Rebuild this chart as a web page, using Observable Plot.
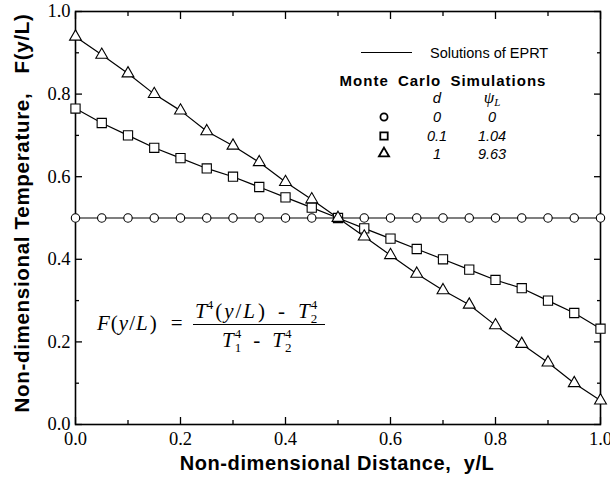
<!DOCTYPE html>
<html><head><meta charset="utf-8">
<script src="https://cdn.jsdelivr.net/npm/d3@7"></script>
<script src="https://cdn.jsdelivr.net/npm/@observablehq/plot@0.6"></script>
<style>body{margin:0;background:#fff} #chart{position:relative;width:610px;height:478px}</style>
</head><body><div id="chart"></div>
<script>
// ---- data ----
const positions = [0, 0.05, 0.1, 0.15, 0.2, 0.25, 0.3, 0.35, 0.4, 0.45, 0.5, 0.55, 0.6, 0.65, 0.7, 0.75, 0.8, 0.85, 0.9, 0.95, 1.0];
const circleValues = [0.5, 0.5, 0.5, 0.5, 0.5, 0.5, 0.5, 0.5, 0.5, 0.5, 0.5, 0.5, 0.5, 0.5, 0.5, 0.5, 0.5, 0.5, 0.5, 0.5, 0.5];
const squareValues = [0.765, 0.73, 0.70, 0.67, 0.645, 0.62, 0.60, 0.575, 0.55, 0.525, 0.5, 0.475, 0.45, 0.425, 0.40, 0.375, 0.35, 0.33, 0.30, 0.27, 0.232];
const triangleValues = [0.939, 0.895, 0.85, 0.80, 0.76, 0.71, 0.675, 0.635, 0.587, 0.545, 0.5, 0.455, 0.41, 0.365, 0.325, 0.29, 0.24, 0.195, 0.15, 0.10, 0.058];
const majorTicks = [0, 0.2, 0.4, 0.6, 0.8, 1.0];
const minorTicks = [0.1, 0.3, 0.5, 0.7, 0.9];
const legendSymbols = ["circle", "square", "triangle"];
const legendD = ["0", "0.1", "1"];
const legendPsi = ["0", "1.04", "9.63"];

const series = [
  {name: "circle", values: circleValues},
  {name: "square", values: squareValues},
  {name: "triangle", values: triangleValues}
];
const data = series.flatMap(s => positions.map((x, i) => ({series: s.name, x, y: s.values[i]})));
const of = name => data.filter(d => d.series === name);

const fmt = d3.format(".1f");
const tickStyle = {stroke: "#000", strokeWidth: 1.3};

const chart = Plot.plot({
  width: 610, height: 478,
  marginLeft: 75, marginRight: 10, marginTop: 11, marginBottom: 54,
  style: {fontFamily: "'Liberation Serif', serif", fontSize: "18.5px", color: "#000", background: "#fff"},
  x: {domain: [0, 1]},
  y: {domain: [0, 1]},
  marks: [
    Plot.axisX(majorTicks, {anchor: "bottom", tickSize: 0, tickPadding: 7, tickFormat: fmt, label: null}),
    Plot.axisY(majorTicks, {anchor: "left", tickSize: 0, tickPadding: 5, tickFormat: fmt, label: null}),
    Plot.axisX(majorTicks, {anchor: "bottom", tickSize: 7, dy: -7, tickFormat: () => "", label: null, ...tickStyle}),
    Plot.axisX(minorTicks, {anchor: "bottom", tickSize: 4, dy: -4, tickFormat: () => "", label: null, ...tickStyle}),
    Plot.axisX(majorTicks, {anchor: "top", tickSize: 7, dy: 7, tickFormat: () => "", label: null, ...tickStyle}),
    Plot.axisX(minorTicks, {anchor: "top", tickSize: 4, dy: 4, tickFormat: () => "", label: null, ...tickStyle}),
    Plot.axisY(majorTicks, {anchor: "left", tickSize: 7, dx: 7, tickFormat: () => "", label: null, ...tickStyle}),
    Plot.axisY(minorTicks, {anchor: "left", tickSize: 4, dx: 4, tickFormat: () => "", label: null, ...tickStyle}),
    Plot.axisY(majorTicks, {anchor: "right", tickSize: 7, dx: -7, tickFormat: () => "", label: null, ...tickStyle}),
    Plot.axisY(minorTicks, {anchor: "right", tickSize: 4, dx: -4, tickFormat: () => "", label: null, ...tickStyle}),
    Plot.frame({stroke: "#000", strokeWidth: 1.6}),
    Plot.line(data, {x: "x", y: "y", z: "series", stroke: "#000", strokeWidth: 1.2}),
    Plot.dot(of("circle"), {x: "x", y: "y", symbol: "circle", r: 4.2, fill: "#fff", stroke: "#000", strokeWidth: 1.1}),
    Plot.dot(of("square"), {x: "x", y: "y", symbol: "square", r: 5.2, fill: "#fff", stroke: "#000", strokeWidth: 1.1}),
    Plot.dot(of("triangle"), {x: "x", y: "y", symbol: "triangle", r: 4.4, fill: "#fff", stroke: "#000", strokeWidth: 1.1})
  ]
});
document.getElementById("chart").appendChild(chart);

const svg = d3.select(chart);
const SANS = "'Liberation Sans', Arial, sans-serif";
const SERIF = "'Liberation Serif', 'Times New Roman', serif";

// axis titles
svg.append("text").attr("x", 337).attr("y", 470).attr("text-anchor", "middle")
  .attr("font-family", SANS).attr("font-weight", "bold").attr("font-size", 20).attr("letter-spacing", 0.6)
  .attr("xml:space", "preserve").text("Non-dimensional Distance,  y/L");
svg.append("text").attr("transform", "translate(29,213) rotate(-90)").attr("text-anchor", "middle")
  .attr("font-family", SANS).attr("font-weight", "bold").attr("font-size", 20.5).attr("letter-spacing", 0.7)
  .attr("xml:space", "preserve").text("Non-dimensional Temperature,   F(y/L)");

// legend
const lg = svg.append("g").attr("text-anchor", "start");
lg.append("line").attr("x1", 361).attr("x2", 412).attr("y1", 52.5).attr("y2", 52.5).attr("stroke", "#000").attr("stroke-width", 1);
lg.append("text").attr("x", 430).attr("y", 57.5).attr("font-family", SANS).attr("font-size", 14.5).text("Solutions of EPRT");
lg.append("text").attr("x", 443).attr("y", 85.5).attr("text-anchor", "middle").attr("font-family", SANS)
  .attr("font-weight", "bold").attr("font-size", 15).attr("letter-spacing", 1).attr("word-spacing", 4).text("Monte Carlo Simulations");
lg.append("text").attr("x", 437).attr("y", 103).attr("text-anchor", "middle").attr("font-family", SANS)
  .attr("font-style", "italic").attr("font-size", 15).text("d");
const psi = lg.append("text").attr("x", 492).attr("y", 103).attr("text-anchor", "middle").attr("font-family", SERIF)
  .attr("font-style", "italic").attr("font-size", 17);
psi.append("tspan").text("ψ");
psi.append("tspan").attr("font-size", 11).attr("dy", 3).text("L");
const symMap = {circle: d3.symbolCircle, square: d3.symbolSquare, triangle: d3.symbolTriangle};
const symSize = {circle: 40, square: 55, triangle: 45};
const rowY = [117, 136, 153.5];
legendSymbols.forEach((s, i) => {
  lg.append("path").attr("d", d3.symbol(symMap[s], symSize[s])()).attr("transform", `translate(384,${rowY[i]})`)
    .attr("fill", "#fff").attr("stroke", "#000").attr("stroke-width", 1.8);
  lg.append("text").attr("x", 437).attr("y", rowY[i] + 5).attr("text-anchor", "middle").attr("font-family", SANS)
    .attr("font-style", "italic").attr("font-size", 14.5).text(legendD[i]);
  lg.append("text").attr("x", 492).attr("y", rowY[i] + 5).attr("text-anchor", "middle").attr("font-family", SANS)
    .attr("font-style", "italic").attr("font-size", 14.5).text(legendPsi[i]);
});

// formula
const fg = svg.append("g").attr("font-family", SERIF).attr("fill", "#000").attr("text-anchor", "start");
function runText(x, y, pieces) {
  let cx = x;
  for (const p of pieces) {
    const t = fg.append("text").attr("x", cx + (p.dx || 0)).attr("y", y + (p.dy || 0))
      .attr("font-size", p.size || 21).attr("font-style", p.italic ? "italic" : "normal")
      .attr("xml:space", "preserve").text(p.t);
    const w = t.node().getComputedTextLength();
    if (!p.noAdvance) cx += w + (p.dx || 0) + (p.after || 0);
  }
  return cx;
}
const T2 = [
  {t: "T", italic: true},
  {t: "4", size: 13, dy: -9, noAdvance: true, dx: 1},
  {t: "2", size: 13, dy: 5, dx: 1}
];
runText(97, 330, [{t: "F", italic: true, after: 1}, {t: "(", after: 1}, {t: "y", italic: true, after: 1}, {t: "/", after: 1}, {t: "L", italic: true, after: 2}, {t: ")"}, {t: "=", dx: 14}]);
runText(195, 318, [{t: "T", italic: true}, {t: "4", size: 13, dy: -9, after: 2}, {t: "(", after: 2}, {t: "y", italic: true, after: 2}, {t: "/", after: 2}, {t: "L", italic: true, after: 3}, {t: ")"}, {t: "-", dx: 13}, {t: "", dx: 13}, ...T2]);
fg.append("line").attr("x1", 193).attr("x2", 325).attr("y1", 324.5).attr("y2", 324.5).attr("stroke", "#000").attr("stroke-width", 1.2);
runText(222, 347, [{t: "T", italic: true}, {t: "4", size: 13, dy: -9, noAdvance: true, dx: 1}, {t: "1", size: 13, dy: 5, dx: 1}, {t: "-", dx: 12}, {t: "", dx: 12}, ...T2]);
</script>
</body></html>
